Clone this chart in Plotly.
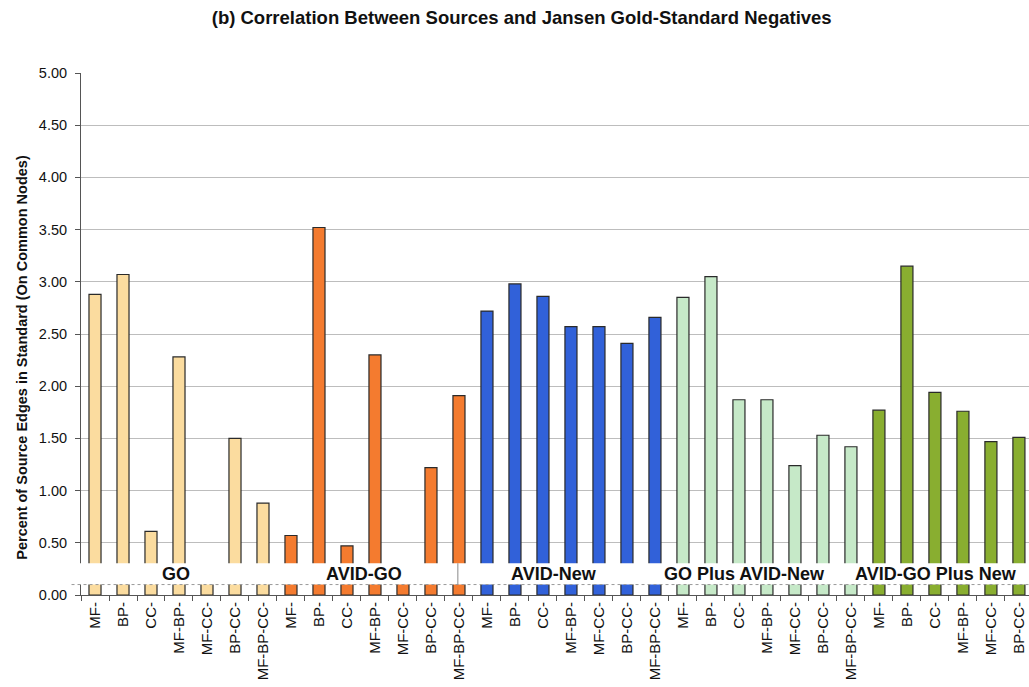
import plotly.graph_objects as go

# Source combinations and the GO-annotation subsets tested within each
groups = ["GO", "AVID-GO", "AVID-New", "GO Plus AVID-New", "AVID-GO Plus New"]
subsets = ["MF-", "BP-", "CC-", "MF-BP-", "MF-CC-", "BP-CC-", "MF-BP-CC-"]

# Percent of source edges found in the Jansen negative standard
go_vals = [2.88, 3.07, 0.61, 2.28, 0.20, 1.50, 0.88]
avid_go_vals = [0.57, 3.52, 0.47, 2.30, 0.20, 1.22, 1.91]
avid_new_vals = [2.72, 2.98, 2.86, 2.57, 2.57, 2.41, 2.66]
go_plus_avid_new_vals = [2.85, 3.05, 1.87, 1.87, 1.24, 1.53, 1.42]
avid_go_plus_new_vals = [1.77, 3.15, 1.94, 1.76, 1.47, 1.51]

series = [go_vals, avid_go_vals, avid_new_vals, go_plus_avid_new_vals, avid_go_plus_new_vals]
colors = ["#FBDC9F", "#F47B2F", "#3161D9", "#C6E9C8", "#89AE30"]

# Where each group's caption sits along the category axis
label_pos = [2.9, 9.6, 16.4, 23.2, 30.05]

n_sub = len(subsets)
fig = go.Figure()
tickvals, ticktext = [], []
for g, (name, vals, col) in enumerate(zip(groups, series, colors)):
    xs = [g * n_sub + i for i in range(len(vals))]
    tickvals += xs
    ticktext += subsets[:len(vals)]
    fig.add_trace(go.Bar(
        x=xs, y=vals, name=name, width=0.43,
        marker=dict(color=col, line=dict(color="#2a2a2a", width=1.2)),
        showlegend=False,
    ))

font_main = "Liberation Sans, Arial, sans-serif"

annotations = []
for name, xp in zip(groups, label_pos):
    annotations.append(dict(
        x=xp, y=0.20, xref="x", yref="y", text=f"<b>{name}</b>",
        showarrow=False, font=dict(size=18, color="#111", family=font_main),
        xanchor="center", yanchor="middle",
    ))
annotations.append(dict(
    x=-0.0625, y=0.456, xref="paper", yref="paper",
    text="<b>Percent of Source Edges in Standard (On Common Nodes)</b>",
    textangle=-90, showarrow=False,
    font=dict(size=14.5, color="#111", family=font_main),
    xanchor="center", yanchor="middle",
))

shapes = [
    # white caption band across the foot of the bars
    dict(type="rect", xref="paper", yref="y", x0=-0.02, x1=1.0, y0=0.10, y1=0.305,
         fillcolor="white", line=dict(width=0), layer="above"),
    dict(type="line", xref="paper", yref="y", x0=-0.01, x1=1.0, y0=0.10, y1=0.10,
         line=dict(color="#9a9a9a", width=1, dash="dot"), layer="above"),
    dict(type="line", xref="x", yref="y", x0=12.96, x1=12.96, y0=0.10, y1=0.305,
         line=dict(color="#8a8a8a", width=1), layer="above"),
]

fig.update_layout(
    width=1029, height=687,
    margin=dict(l=81, r=0, t=73, b=92),
    paper_bgcolor="white", plot_bgcolor="white",
    bargap=0.57,
    title=dict(
        text="<b>(b) Correlation Between Sources and Jansen Gold-Standard Negatives</b>",
        x=0.507, xanchor="center", y=1 - 18 / 687, yanchor="middle",
        font=dict(size=18.5, color="#111",
                  family="Liberation Sans Narrow, Arial Narrow, Liberation Sans, sans-serif"),
    ),
    xaxis=dict(
        range=[-0.5, 33.36], tickmode="array", tickvals=tickvals, ticktext=ticktext,
        tickangle=-90, ticks="", showgrid=False, zeroline=False,
        showline=True, linecolor="#555", linewidth=1,
        tickfont=dict(size=15, color="#111", family=font_main),
        minor=dict(tick0=-0.5, dtick=1, ticks="outside", ticklen=5, tickcolor="#555",
                   showgrid=False),
    ),
    yaxis=dict(
        range=[0, 5], tickmode="array",
        tickvals=[0, 0.5, 1, 1.5, 2, 2.5, 3, 3.5, 4, 4.5, 5],
        ticktext=["0.00", "0.50", "1.00", "1.50", "2.00", "2.50", "3.00", "3.50",
                  "4.00", "4.50", "5.00"],
        ticks="outside", ticklen=5, tickcolor="#555", ticklabelstandoff=5,
        showgrid=True, gridcolor="#bdbdbd", gridwidth=1, zeroline=False,
        showline=True, linecolor="#555", linewidth=1,
        tickfont=dict(size=14.5, color="#111", family=font_main),
    ),
    annotations=annotations,
    shapes=shapes,
)

fig.write_html("out.html")
